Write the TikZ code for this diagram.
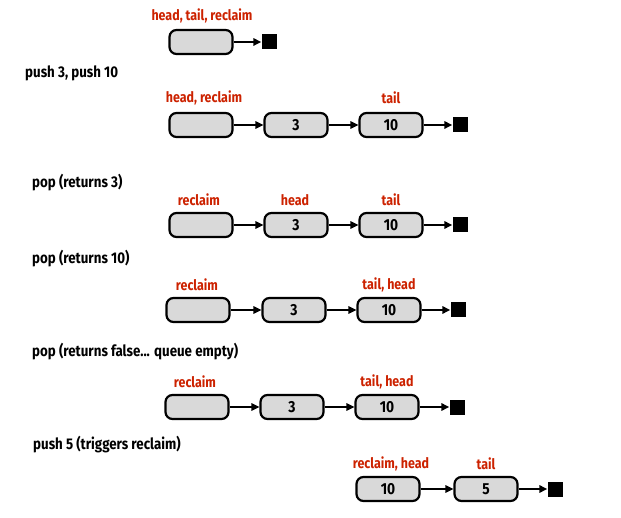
\documentclass[tikz,border=0pt]{standalone}
\usepackage{fontspec}
\setmainfont{Fira Sans}[FakeStretch=0.86]
\usetikzlibrary{arrows.meta}
\definecolor{lblred}{RGB}{204,34,0}
\definecolor{boxgray}{RGB}{217,217,217}
\begin{document}
\begin{tikzpicture}[x=1pt,y=-1pt,
  qbox/.style={draw=black,line width=2.2pt,fill=boxgray,rounded corners=7pt,minimum width=63pt,minimum height=24pt,inner sep=0pt,font=\fontsize{16}{18}\selectfont\bfseries},
  endsq/.style={fill=black,minimum size=15pt,inner sep=0pt},
  lbl/.style={text=lblred,font=\fontsize{14.5}{16}\selectfont\bfseries,inner sep=0pt},
  hdr/.style={anchor=west,font=\fontsize{15.5}{17}\selectfont\bfseries,inner sep=0pt},
  link/.style={line width=1.6pt,-{Triangle[length=8pt,width=7.5pt]}}]
\useasboundingbox (0,0) rectangle (621,518);
% row 1
\node[qbox] (a1) at (201,42) {};
\node[endsq] (s1) at (269,42) {};
\draw[link] (a1) -- (s1);
\node[lbl] (la1) at (202,16) {head, tail, reclaim};
% row 2
\node[hdr] (h2) at (25,73) {push 3, push 10};
\node[qbox] (a2) at (201,125) {};
\node[qbox] (b2) at (296,125) {3};
\node[qbox] (c2) at (391,125) {10};
\node[endsq] (s2) at (460,125) {};
\draw[link] (a2) -- (b2);
\draw[link] (b2) -- (c2);
\draw[link] (c2) -- (s2);
\node[lbl] (la2) at (204,98) {head, reclaim};
\node[lbl] (lc2) at (391,98) {tail};
% row 3
\node[hdr] (h3) at (32,183) {pop (returns 3)};
\node[qbox] (a3) at (201,225) {};
\node[qbox] (b3) at (296,225) {3};
\node[qbox] (c3) at (391,225) {10};
\node[endsq] (s3) at (460,225) {};
\draw[link] (a3) -- (b3);
\draw[link] (b3) -- (c3);
\draw[link] (c3) -- (s3);
\node[lbl] (la3) at (199,200) {reclaim};
\node[lbl] (lb3) at (295,200) {head};
\node[lbl] (lc3) at (391,200) {tail};
% row 4
\node[hdr] (h4) at (32,259) {pop (returns 10)};
\node[qbox] (a4) at (198,310) {};
\node[qbox] (b4) at (294,310) {3};
\node[qbox] (c4) at (389,310) {10};
\node[endsq] (s4) at (458,310) {};
\draw[link] (a4) -- (b4);
\draw[link] (b4) -- (c4);
\draw[link] (c4) -- (s4);
\node[lbl] (la4) at (197,285) {reclaim};
\node[lbl] (lc4) at (389,285) {tail, head};
% row 5
\node[hdr] (h5) at (32,352) {pop (returns false... queue empty)};
\node[qbox] (a5) at (197,407) {};
\node[qbox] (b5) at (292,407) {3};
\node[qbox] (c5) at (387,407) {10};
\node[endsq] (s5) at (457,407) {};
\draw[link] (a5) -- (b5);
\draw[link] (b5) -- (c5);
\draw[link] (c5) -- (s5);
\node[lbl] (la5) at (195,382) {reclaim};
\node[lbl] (lc5) at (387,382) {tail, head};
% row 6
\node[hdr] (h6) at (33,445) {push 5 (triggers reclaim)};
\node[qbox] (a6) at (388,489) {10};
\node[qbox] (b6) at (486,489) {5};
\node[endsq] (s6) at (555,489) {};
\draw[link] (a6) -- (b6);
\draw[link] (b6) -- (s6);
\node[lbl] (la6) at (391,464) {reclaim, head};
\node[lbl] (lb6) at (486,464) {tail};
\end{tikzpicture}
\end{document}
